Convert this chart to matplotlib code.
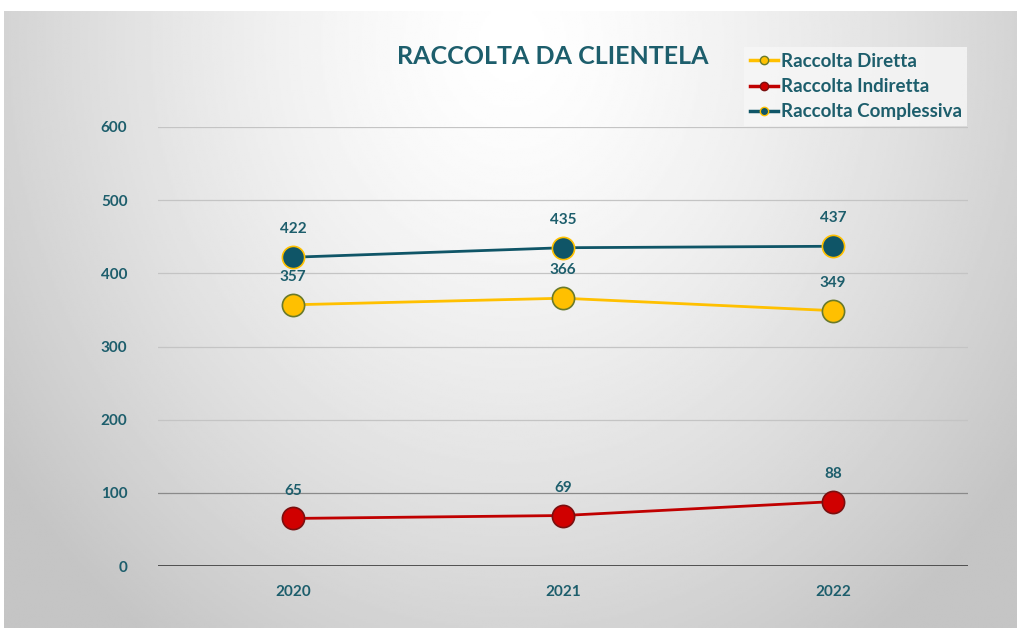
import numpy as np
import matplotlib
matplotlib.use("Agg")
import matplotlib.pyplot as plt
from matplotlib.lines import Line2D

years = ["2020", "2021", "2022"]
diretta = [357, 366, 349]
indiretta = [65, 69, 88]
complessiva = [422, 435, 437]
yticks = [0, 100, 200, 300, 400, 500, 600]

TEAL = "#0F5567"
TEXT = "#1D5E6C"
YELLOW = "#FFC000"
RED = "#D00000"

plt.rcParams['font.family'] = ['Lato', 'DejaVu Sans']

W, H = 1017, 628
fig = plt.figure(figsize=(W / 100, H / 100), dpi=100)
fig.patch.set_facecolor("white")

# background gradient
bg = fig.add_axes([4 / W, 0, 1 - 4 / W, (H - 11) / H])
bg.set_axis_off()
ny, nx = 300, 500
yy, xx = np.mgrid[0:ny, 0:nx]
cx, cy = nx * 0.5, ny * 0.05
d = np.sqrt(((xx - cx) / (nx * 0.6)) ** 2 + ((yy - cy) / (ny * 1.15)) ** 2)
v = 1.0 - 0.22 * np.clip(d, 0, 1.2) ** 1.4
v = np.clip(v, 0.77, 1.0)
bg.imshow(v, cmap="gray", vmin=0, vmax=1, aspect="auto", extent=[0, 1, 0, 1], origin="upper")
bg.set_xlim(0, 1); bg.set_ylim(0, 1)

# main axes: x 158..968, y 0 at 566, 600 at 127
x0, x1 = 158, 968
y0px, y600px = 566, 127
ax = fig.add_axes([x0 / W, (H - y0px) / H, (x1 - x0) / W, (y0px - y600px) / H])
ax.patch.set_alpha(0)
ax.set_xlim(-0.5, 2.5)
ax.set_ylim(0, 600)
for s in ax.spines.values():
    s.set_visible(False)
for t in yticks[1:]:
    ax.axhline(t, color="#C4C4C4" if t != 100 else "#8A8A8A", lw=0.9, zorder=1)
ax.axhline(0, color="#444444", lw=2.0, zorder=1)

x = np.arange(len(years))
series = [
    (complessiva, TEAL, YELLOW, TEAL),
    (diretta, YELLOW, "#6A7A2A", YELLOW),
    (indiretta, RED, "#7A1010", "#C00000"),
]
for vals, mfc, mec, lc in series:
    ax.plot(x, vals, color=lc, lw=2.0, marker="o", ms=16, mfc=mfc, mec=mec, mew=1.2, zorder=3)
    for xi, vi in zip(x, vals):
        ax.annotate(str(vi), (xi, vi), xytext=(0, 20), textcoords="offset points",
                    ha="center", va="center", fontsize=11, fontweight="bold", color=TEXT, zorder=4)

ax.set_xticks(x)
ax.set_xticklabels(years)
ax.set_yticks(yticks)
ax.tick_params(length=0, labelsize=11, labelcolor=TEXT)
for lab in ax.get_xticklabels() + ax.get_yticklabels():
    lab.set_fontweight("bold")
ax.tick_params(axis="y", pad=22)
ax.tick_params(axis="x", pad=14)

fig.text(553 / W, 1 - 57 / H, "RACCOLTA DA CLIENTELA", ha="center", va="center",
         fontsize=18, fontweight="bold", color=TEXT)

handles = [
    Line2D([], [], color=YELLOW, lw=2.5, marker="o", ms=6, mfc=YELLOW, mec="#6A7A2A"),
    Line2D([], [], color="#C00000", lw=2.5, marker="o", ms=6, mfc=RED, mec="#7A1010"),
    Line2D([], [], color=TEAL, lw=2.5, marker="o", ms=6, mfc=TEAL, mec=YELLOW),
]
labels = ["Raccolta Diretta", "Raccolta Indiretta", "Raccolta Complessiva"]
leg = fig.legend(handles, labels, loc="upper left", bbox_to_anchor=(744 / W, 1 - 47 / H),
                 frameon=True, fancybox=False, handlelength=1.5, handletextpad=0.15,
                 labelspacing=0.45, borderpad=0.3, borderaxespad=0,
                 prop={"weight": "bold", "size": 13.5})
leg.get_frame().set_facecolor("#F7F7F7")
leg.get_frame().set_edgecolor("none")
leg.get_frame().set_alpha(0.8)
for t in leg.get_texts():
    t.set_color(TEXT)

fig.savefig("out.png", dpi=100)
